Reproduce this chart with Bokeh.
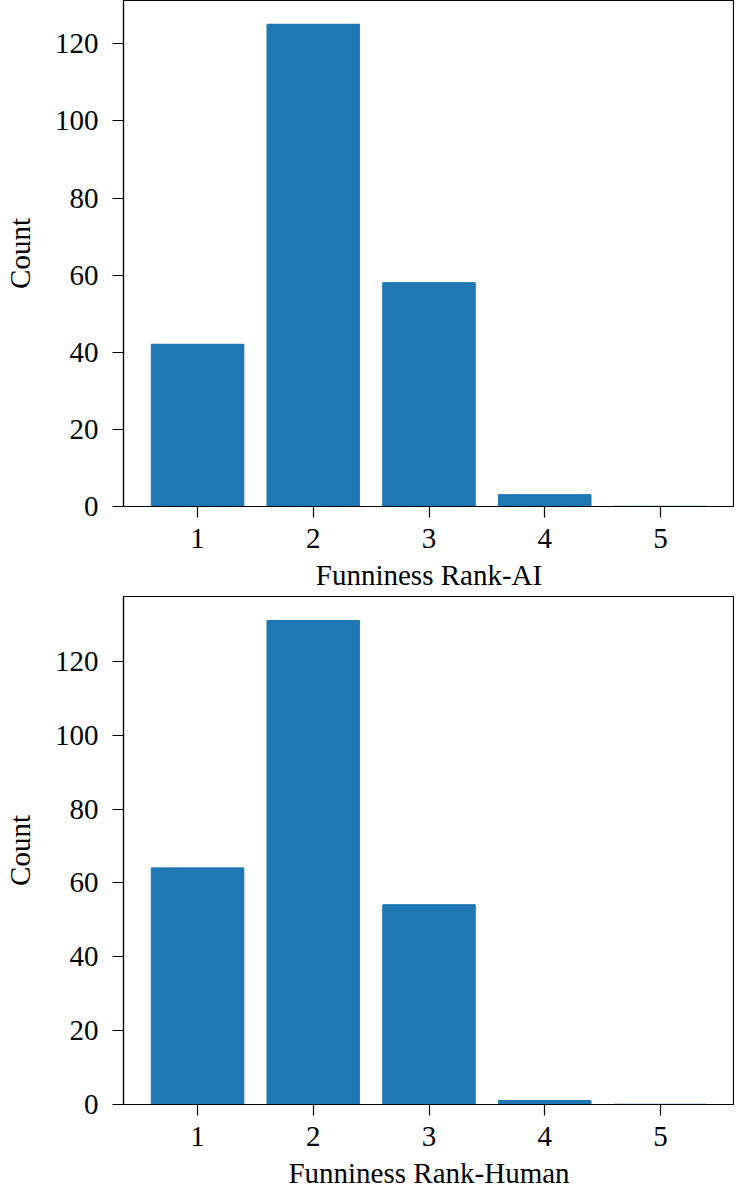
from bokeh.plotting import figure
from bokeh.layouts import column
from bokeh.models import Range1d, FixedTicker
from bokeh.embed import file_html
from bokeh.resources import INLINE

ranks = [1, 2, 3, 4, 5]
counts_ai = [42, 125, 58, 3, 0]
counts_human = [64, 131, 54, 1, 0]
x_label_ai = "Funniness Rank-AI"
x_label_human = "Funniness Rank-Human"
y_label = "Count"
y_ticks = [0, 20, 40, 60, 80, 100, 120]

BAR = "#1f77b4"
FONT = "Liberation Serif"
FS = "29px"
HALF = 0.4


def make(counts, xlabel, frame_h, border_bottom):
    ymax = max(counts) * 1.05
    p = figure(output_backend="svg", toolbar_location=None,
               frame_width=611, frame_height=frame_h,
               min_border_left=118, min_border_right=0,
               min_border_top=0, min_border_bottom=border_bottom,
               x_range=Range1d(0.36, 5.64), y_range=Range1d(0, ymax))
    p.vbar(x=ranks, top=counts, width=2 * HALF, fill_color=BAR, line_color=BAR, line_width=1)
    # zero-height bars still show as a thin line
    p.segment(x0=[r - HALF for r in ranks], x1=[r + HALF for r in ranks],
              y0=counts, y1=counts, line_color=BAR, line_width=1.5)
    p.xgrid.visible = False
    p.ygrid.visible = False
    p.outline_line_color = "black"
    p.outline_line_width = 1.2
    p.background_fill_color = "white"
    p.border_fill_color = "white"
    p.xaxis.ticker = FixedTicker(ticks=ranks)
    p.yaxis.ticker = FixedTicker(ticks=y_ticks)
    for ax in (p.xaxis[0], p.yaxis[0]):
        ax.major_tick_out = 11
        ax.major_tick_in = 0
        ax.minor_tick_out = 0
        ax.minor_tick_in = 0
        ax.axis_line_color = "black"
        ax.axis_line_width = 1.2
        ax.major_tick_line_color = "black"
        ax.major_tick_line_width = 1.2
        ax.major_label_text_font = FONT
        ax.major_label_text_font_size = FS
        ax.major_label_text_color = "black"
        ax.axis_label_text_font = FONT
        ax.axis_label_text_font_size = FS
        ax.axis_label_text_font_style = "normal"
        ax.axis_label_text_color = "black"
    p.xaxis.axis_label = xlabel
    p.yaxis.axis_label = y_label
    p.xaxis.major_label_standoff = 11
    p.xaxis.axis_label_standoff = 8
    p.yaxis.major_label_standoff = 14
    p.yaxis.axis_label_standoff = 16
    return p


p1 = make(counts_ai, x_label_ai, 506, 90)
p2 = make(counts_human, x_label_human, 508, 84)
layout = column(p1, p2, spacing=0)

open("out.html", "w").write(file_html(layout, INLINE))
